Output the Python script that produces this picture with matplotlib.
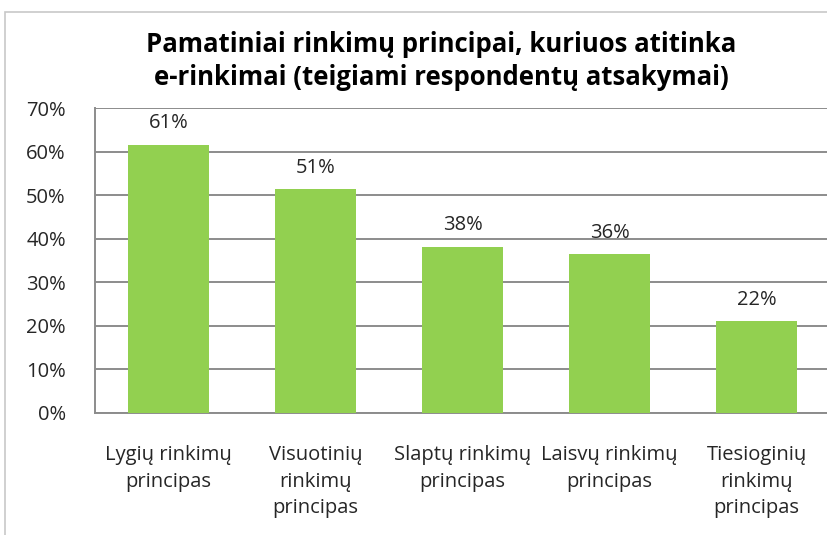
import matplotlib.pyplot as plt
from matplotlib.patches import Rectangle
import numpy as np

plt.rcParams['font.family'] = ['Open Sans', 'DejaVu Sans']

categories = ['Lygių rinkimų\nprincipas', 'Visuotinių\nrinkimų\nprincipas',
              'Slaptų rinkimų\nprincipas', 'Laisvų rinkimų\nprincipas',
              'Tiesioginių\nrinkimų\nprincipas']
values = [61.6, 51.3, 38.2, 36.5, 21.1]
value_labels = ['61%', '51%', '38%', '36%', '22%']
yticks = [0, 10, 20, 30, 40, 50, 60, 70]

W, H = 827, 535
fig = plt.figure(figsize=(W / 100, H / 100), dpi=100)

# rama aplink diagramą
fig.patches.append(Rectangle((5 / W, -0.1), 1.2, 1.1 - 12 / H,
                             transform=fig.transFigure, fill=False,
                             edgecolor='#c8c8c8', linewidth=1.2))

left, right, top, bottom = 95, 830, 108, 413
ax = fig.add_axes([left / W, 1 - bottom / H, (right - left) / W, (bottom - top) / H])

x = np.arange(len(categories))
bars = ax.bar(x, values, width=0.55, color='#92D050', zorder=3)

ax.set_xlim(-0.5, len(categories) - 0.5)
ax.set_ylim(0, 70)
ax.set_yticks(yticks)
ax.set_yticklabels([f'{t}%' for t in yticks], fontsize=14.5, color='#262626')
ax.set_xticks(x)
ax.set_xticklabels(categories, fontsize=14.5, color='#262626', linespacing=1.45)
ax.tick_params(axis='both', length=0)
ax.tick_params(axis='y', pad=21)
ax.tick_params(axis='x', pad=23)
ax.grid(axis='y', color='#8c8c8c', linewidth=1.4, zorder=0)

for side in ['top', 'right']:
    ax.spines[side].set_visible(False)
for side in ['left', 'bottom']:
    ax.spines[side].set_color('#8c8c8c')
    ax.spines[side].set_linewidth(1.4)

for bar, lab in zip(bars, value_labels):
    ax.annotate(lab, xy=(bar.get_x() + bar.get_width() / 2, bar.get_height()),
                xytext=(0, 8), textcoords='offset points',
                ha='center', va='bottom', fontsize=14.5, color='#262626')

fig.text(441 / W, 1 - 61 / H,
         'Pamatiniai rinkimų principai, kuriuos atitinka\ne-rinkimai (teigiami respondentų atsakymai)',
         ha='center', va='center', fontsize=18.5, fontweight='bold',
         color='black', linespacing=1.25)

fig.savefig('out.png', dpi=100)
